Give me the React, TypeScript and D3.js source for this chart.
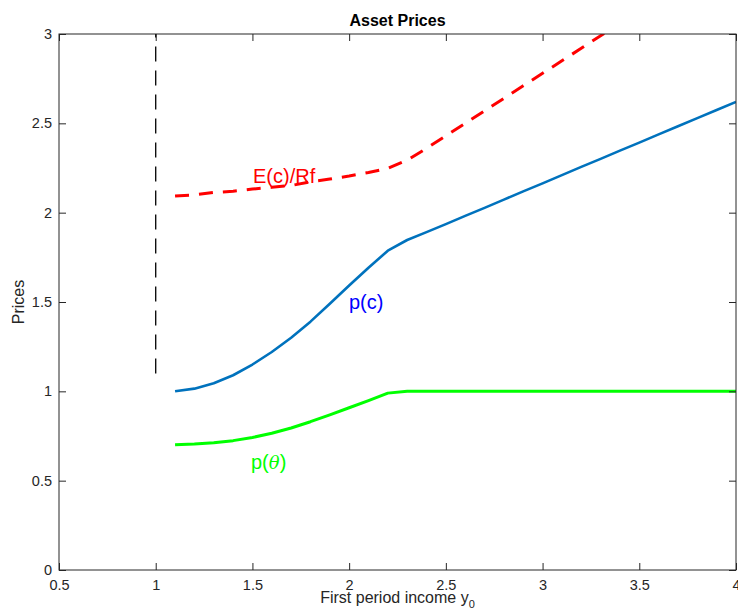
import React, { useEffect, useRef } from "react";
import * as d3 from "d3";

// first period income grid
const incomeGrid = [1.1, 1.2, 1.3, 1.4, 1.5, 1.6, 1.7, 1.8, 1.9, 2.0, 2.1, 2.2, 2.3, 2.4, 2.5,
  2.6, 2.7, 2.8, 2.9, 3.0, 3.1, 3.2, 3.3, 3.4, 3.5, 3.6, 3.7, 3.8, 3.9, 4.0];

// E(c)/Rf, red dashed
const expectedOverRf = [2.093, 2.1, 2.113, 2.12, 2.132, 2.142, 2.152, 2.173, 2.188, 2.205, 2.225, 2.248,
  2.294, 2.36, 2.43, 2.5, 2.57, 2.64, 2.71, 2.78, 2.85, 2.92, 2.99, 3.06, 3.13, 3.2, 3.27, 3.34, 3.41, 3.48];

// p(c), blue
const priceC = [1.0, 1.015, 1.045, 1.09, 1.15, 1.22, 1.3, 1.39, 1.49, 1.592, 1.692, 1.787,
  1.847, 1.891, 1.936, 1.982, 2.027, 2.073, 2.119, 2.164, 2.21, 2.256, 2.301, 2.347, 2.392, 2.438,
  2.484, 2.529, 2.575, 2.62];

// p(theta), green
const priceTheta = [0.701, 0.705, 0.712, 0.724, 0.742, 0.765, 0.795, 0.83, 0.868, 0.908, 0.948, 0.99,
  1.0, 1.0, 1.0, 1.0, 1.0, 1.0, 1.0, 1.0, 1.0, 1.0, 1.0, 1.0, 1.0, 1.0, 1.0, 1.0, 1.0, 1.0];

// vertical marker at y0 = 1
const markerX = [1, 1];
const markerY = [1.1, 3];

const xTicks = [0.5, 1, 1.5, 2, 2.5, 3, 3.5, 4];
const yTicks = [0, 0.5, 1, 1.5, 2, 2.5, 3];

const FONT = "'Liberation Sans', Arial, Helvetica, sans-serif";

export default function App() {
  const ref = useRef<SVGSVGElement>(null);

  useEffect(() => {
    const width = 738, height = 609;
    const left = 59, right = 736, top = 34, bottom = 570;

    const svg = d3.select(ref.current);
    svg.selectAll("*").remove();

    const x = d3.scaleLinear().domain([0.5, 4]).range([left, right]);
    const y = d3.scaleLinear().domain([0, 3]).range([bottom, top]);

    svg.append("defs").append("clipPath").attr("id", "plotclip")
      .append("rect")
      .attr("x", left).attr("y", top)
      .attr("width", right - left).attr("height", bottom - top);

    const plot = svg.append("g").attr("clip-path", "url(#plotclip)");

    const line = d3.line<[number, number]>()
      .x(d => x(d[0]))
      .y(d => y(d[1]));

    // black dashed marker
    plot.append("path")
      .attr("d", line(markerX.map((v, i) => [v, markerY[i]] as [number, number])))
      .attr("fill", "none")
      .attr("stroke", "#000")
      .attr("stroke-width", 1.3)
      .attr("stroke-dasharray", "15 9");

    const series = [
      { vals: expectedOverRf, color: "#ff0000", w: 3, dash: "14 10" },
      { vals: priceC, color: "#0072bd", w: 2.6, dash: null },
      { vals: priceTheta, color: "#00ff00", w: 3, dash: null },
    ];

    series.forEach(s => {
      plot.append("path")
        .attr("d", line(incomeGrid.map((v, i) => [v, s.vals[i]] as [number, number])))
        .attr("fill", "none")
        .attr("stroke", s.color)
        .attr("stroke-width", s.w)
        .attr("stroke-linejoin", "round")
        .attr("stroke-dasharray", s.dash);
    });

    // axes box
    const axisColor = "#262626";
    svg.append("rect")
      .attr("x", left).attr("y", top)
      .attr("width", right - left).attr("height", bottom - top)
      .attr("fill", "none")
      .attr("stroke", axisColor)
      .attr("stroke-width", 1);

    const xAxisBottom = d3.axisBottom(x).tickValues(xTicks).tickSizeInner(-7).tickSizeOuter(0)
      .tickPadding(10).tickFormat(d3.format("~g"));
    const xAxisTop = d3.axisTop(x).tickValues(xTicks).tickSizeInner(-7).tickSizeOuter(0)
      .tickFormat(() => "");
    const yAxisLeft = d3.axisLeft(y).tickValues(yTicks).tickSizeInner(-7).tickSizeOuter(0)
      .tickPadding(7).tickFormat(d3.format("~g"));
    const yAxisRight = d3.axisRight(y).tickValues(yTicks).tickSizeInner(-7).tickSizeOuter(0)
      .tickFormat(() => "");

    const styleAxis = (g: d3.Selection<SVGGElement, unknown, null, undefined>) => {
      g.select(".domain").remove();
      g.selectAll("line").attr("stroke", axisColor);
      g.selectAll("text")
        .attr("fill", "#262626")
        .style("font-family", FONT)
        .style("font-size", "14.5px");
    };

    svg.append("g").attr("transform", `translate(0,${bottom})`).call(xAxisBottom).call(styleAxis);
    svg.append("g").attr("transform", `translate(0,${top})`).call(xAxisTop).call(styleAxis);
    svg.append("g").attr("transform", `translate(${left},0)`).call(yAxisLeft).call(styleAxis);
    svg.append("g").attr("transform", `translate(${right},0)`).call(yAxisRight).call(styleAxis);

    // title
    svg.append("text")
      .attr("x", (left + right) / 2).attr("y", 26)
      .attr("text-anchor", "middle")
      .style("font-family", FONT).style("font-size", "16px").style("font-weight", "bold")
      .attr("fill", "#000")
      .text("Asset Prices");

    // x label
    const xl = svg.append("text")
      .attr("x", (left + right) / 2).attr("y", 603)
      .attr("text-anchor", "middle")
      .style("font-family", FONT).style("font-size", "16px")
      .attr("fill", "#262626");
    xl.append("tspan").text("First period income y");
    xl.append("tspan").attr("dy", 5).style("font-size", "11px").text("0");

    // y label
    svg.append("text")
      .attr("transform", `translate(24,${(top + bottom) / 2}) rotate(-90)`)
      .attr("text-anchor", "middle")
      .style("font-family", FONT).style("font-size", "16px")
      .attr("fill", "#262626")
      .text("Prices");

    // curve labels
    svg.append("text")
      .attr("x", 253).attr("y", 183)
      .style("font-family", FONT).style("font-size", "20px")
      .attr("fill", "#ff0000")
      .text("E(c)/Rf");

    svg.append("text")
      .attr("x", 349).attr("y", 309)
      .style("font-family", FONT).style("font-size", "20px")
      .attr("fill", "#0000ff")
      .text("p(c)");

    const pt = svg.append("text")
      .attr("x", 251).attr("y", 469)
      .style("font-family", FONT).style("font-size", "20px")
      .attr("fill", "#00ff00");
    pt.append("tspan").text("p(");
    pt.append("tspan").style("font-style", "italic").style("font-family", "'DejaVu Serif', serif").style("font-size", "18px").text("θ");
    pt.append("tspan").text(")");

    svg.attr("width", width).attr("height", height);
  }, []);

  return (
    <svg
      ref={ref}
      width={738}
      height={609}
      style={{ position: "absolute", left: 0, top: 0, background: "#fff" }}
    />
  );
}
